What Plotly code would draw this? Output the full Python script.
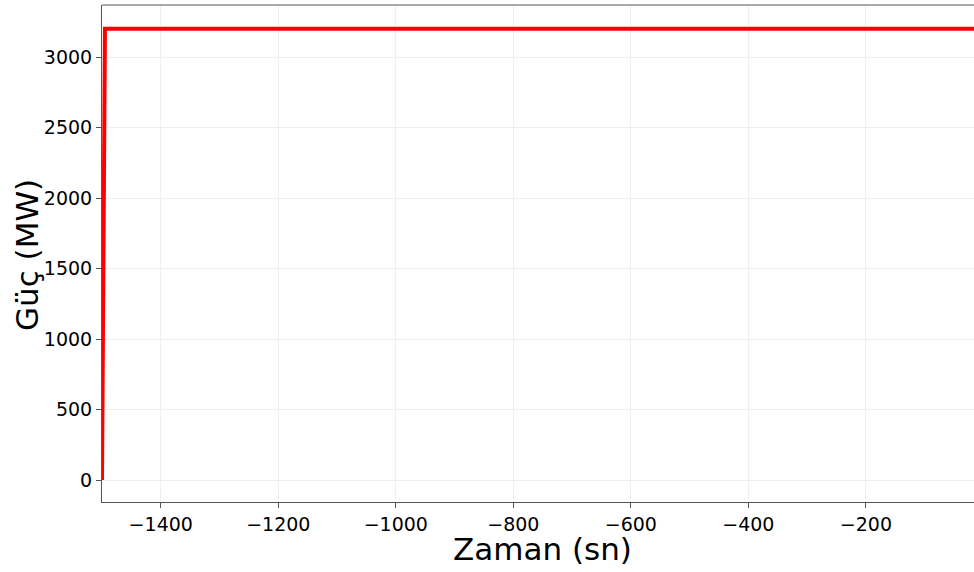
import plotly.graph_objects as go

time_s = [-1500, -1495, -16]
power_mw = [0, 3200, 3200]
x_ticks = [-1400, -1200, -1000, -800, -600, -400, -200]
y_ticks = [0, 500, 1000, 1500, 2000, 2500, 3000]
x_title = "Zaman (sn)"
y_title = "Güç (MW)"

fig = go.Figure()
fig.add_trace(go.Scatter(x=time_s, y=power_mw, mode="lines",
                         line=dict(color="#ff0000", width=4), showlegend=False))

axis_common = dict(
    showgrid=True, gridcolor="#efefef", gridwidth=1,
    showline=True, linecolor="#555555", linewidth=1,
    ticks="outside", ticklen=5, tickcolor="#555555",
    tickfont=dict(family="DejaVu Sans", size=19, color="#000000"),
    zeroline=False, mirror=False,
)
fig.update_xaxes(range=[-1500, -16], tickvals=x_ticks,
                 ticktext=["\u2212" + str(abs(v)) for v in x_ticks],
                 **axis_common)
fig.update_yaxes(range=[-156, 3369], tickvals=y_ticks, **axis_common)

title_font = dict(family="DejaVu Sans", size=31, color="#000000")
fig.add_annotation(text=x_title, xref="paper", yref="paper", x=0.5046, y=-0.0946,
                   xanchor="center", yanchor="middle", showarrow=False, font=title_font,
                   borderpad=0)
fig.add_annotation(text=y_title, xref="paper", yref="paper", x=-0.086, y=0.497,
                   xanchor="center", yanchor="middle", showarrow=False, textangle=-90,
                   font=title_font, borderpad=0)
fig.add_shape(type="line", xref="paper", yref="paper", x0=0, x1=1, y0=1, y1=1,
              line=dict(color="#555555", width=1))

fig.update_layout(width=974, height=572, margin=dict(l=102, r=0, t=5, b=70),
                  plot_bgcolor="white", paper_bgcolor="white")
fig.write_html("out.html", config={"displayModeBar": False},
               post_script="document.body.style.margin='0';document.body.style.overflow='hidden';")
